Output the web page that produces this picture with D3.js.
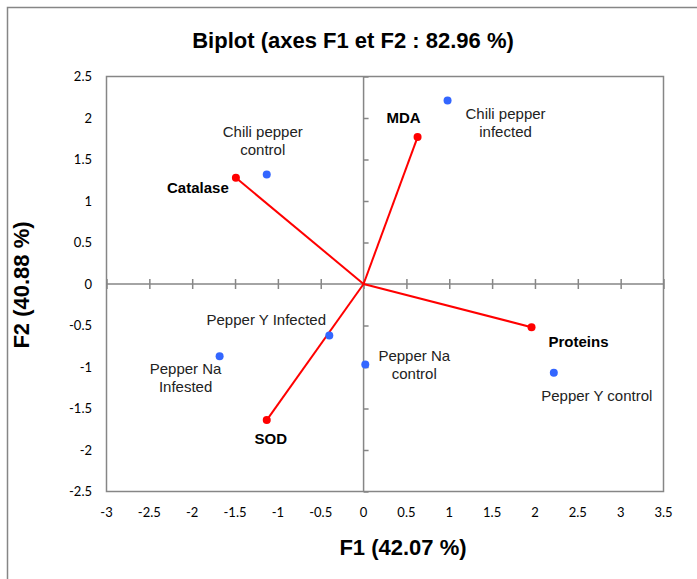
<!DOCTYPE html>
<meta charset="utf-8">
<style>
  body { margin: 0; background: #fff; }
  text { font-family: 'Liberation Sans', Arial, sans-serif; }
</style>
<svg width="697" height="579"></svg>
<script src="https://cdnjs.cloudflare.com/ajax/libs/d3/7.8.5/d3.min.js"></script>
<script>
// variables (red vectors)
var varNames = ['Catalase', 'MDA', 'Proteins', 'SOD']
var varF1 = [-1.49, 0.63, 1.96, -1.13]
var varF2 = [1.28, 1.77, -0.52, -1.64]

// observations (blue points)
var obsNames = ['Chili pepper\ncontrol', 'Chili pepper\ninfected', 'Pepper Y Infected', 'Pepper Na\nInfested', 'Pepper Na\ncontrol', 'Pepper Y control']
var obsF1 = [-1.13, 0.98, -0.40, -1.68, 0.02, 2.22]
var obsF2 = [1.32, 2.21, -0.62, -0.87, -0.97, -1.07]

var xTicks = [-3, -2.5, -2, -1.5, -1, -0.5, 0, 0.5, 1, 1.5, 2, 2.5, 3, 3.5]
var yTicks = [-2.5, -2, -1.5, -1, -0.5, 0, 0.5, 1, 1.5, 2, 2.5]

var svg = d3.select('svg')
var gray = '#868686'

// outer frame
svg.append('rect').attr('x', 7.5).attr('y', 7.5).attr('width', 700).attr('height', 600)
  .attr('fill', 'none').attr('stroke', gray).attr('stroke-width', 1.5)

var x = d3.scaleLinear().domain([-3, 3.5]).range([106.5, 663.5])
var y = d3.scaleLinear().domain([-2.5, 2.5]).range([491.5, 76.5])

svg.append('rect').attr('x', x(-3)).attr('y', y(2.5))
  .attr('width', x(3.5) - x(-3)).attr('height', y(-2.5) - y(2.5))
  .attr('fill', 'none').attr('stroke', gray).attr('stroke-width', 1.5)

// axes through origin with crossing ticks
var xAxis = svg.append('g').attr('transform', 'translate(0,' + y(0) + ')')
  .call(d3.axisBottom(x).tickValues(xTicks).tickFormat('').tickSizeInner(5).tickSizeOuter(0))
xAxis.selectAll('.tick line').attr('y1', -5)
var yAxis = svg.append('g').attr('transform', 'translate(' + x(0) + ',0)')
  .call(d3.axisLeft(y).tickValues(yTicks).tickFormat('').tickSizeInner(5).tickSizeOuter(0))
yAxis.selectAll('.tick line').attr('x2', 5)
svg.selectAll('.domain, .tick line').attr('stroke', gray).attr('stroke-width', 1.5)
xAxis.select('.domain').attr('d', 'M' + x(-3) + ',0H' + x(3.5))
yAxis.select('.domain').attr('d', 'M0,' + y(2.5) + 'V' + y(-2.5))

// tick labels
svg.append('g').selectAll('text').data(xTicks).join('text')
  .attr('x', d => x(d)).attr('y', 517).attr('text-anchor', 'middle')
  .attr('font-size', 13).attr('fill', '#000').style('font-family', 'Lato, sans-serif')
  .text(d => d)
svg.append('g').selectAll('text').data(yTicks).join('text')
  .attr('x', 92).attr('y', d => y(d) + 4.5).attr('text-anchor', 'end')
  .attr('font-size', 13).attr('fill', '#000').style('font-family', 'Lato, sans-serif')
  .text(d => d)

// vectors
varNames.forEach(function(n, i) {
  svg.append('line').attr('x1', x(0)).attr('y1', y(0))
    .attr('x2', x(varF1[i])).attr('y2', y(varF2[i]))
    .attr('stroke', '#ff0000').attr('stroke-width', 2)
})
svg.append('g').selectAll('circle').data(varNames).join('circle')
  .attr('cx', (d, i) => x(varF1[i])).attr('cy', (d, i) => y(varF2[i]))
  .attr('r', 4).attr('fill', '#ff0000')

svg.append('g').selectAll('circle').data(obsNames).join('circle')
  .attr('cx', (d, i) => x(obsF1[i])).attr('cy', (d, i) => y(obsF2[i]))
  .attr('r', 4).attr('fill', '#3366ff')

// labels: offsets from point
var varLab = [[-38, 15], [-14, -14], [47, 20], [4, 24]]
svg.append('g').selectAll('text').data(varNames).join('text')
  .attr('x', (d, i) => x(varF1[i]) + varLab[i][0])
  .attr('y', (d, i) => y(varF2[i]) + varLab[i][1])
  .attr('text-anchor', 'middle').attr('font-size', 15).attr('font-weight', 'bold')
  .text(d => d)

var obsLab = [[-4, -37], [58, 18], [-63, -10], [-34, 18], [49, -4], [43, 28]]
obsNames.forEach(function(n, i) {
  var t = svg.append('text')
    .attr('x', x(obsF1[i]) + obsLab[i][0]).attr('y', y(obsF2[i]) + obsLab[i][1])
    .attr('text-anchor', 'middle').attr('font-size', 15).attr('fill', '#222')
  n.split('\n').forEach(function(line, k) {
    t.append('tspan').attr('x', x(obsF1[i]) + obsLab[i][0]).attr('dy', k ? 18 : 0).text(line)
  })
})

// titles
svg.append('text').attr('x', 353).attr('y', 48).attr('text-anchor', 'middle')
  .attr('font-size', 22).attr('font-weight', 'bold').text('Biplot (axes F1 et F2 : 82.96 %)')
svg.append('text').attr('x', 403).attr('y', 555).attr('text-anchor', 'middle')
  .attr('font-size', 22).attr('font-weight', 'bold').text('F1 (42.07 %)')
svg.append('text').attr('transform', 'translate(29,285) rotate(-90)').attr('text-anchor', 'middle')
  .attr('font-size', 22).attr('font-weight', 'bold').text('F2 (40.88 %)')
</script>
